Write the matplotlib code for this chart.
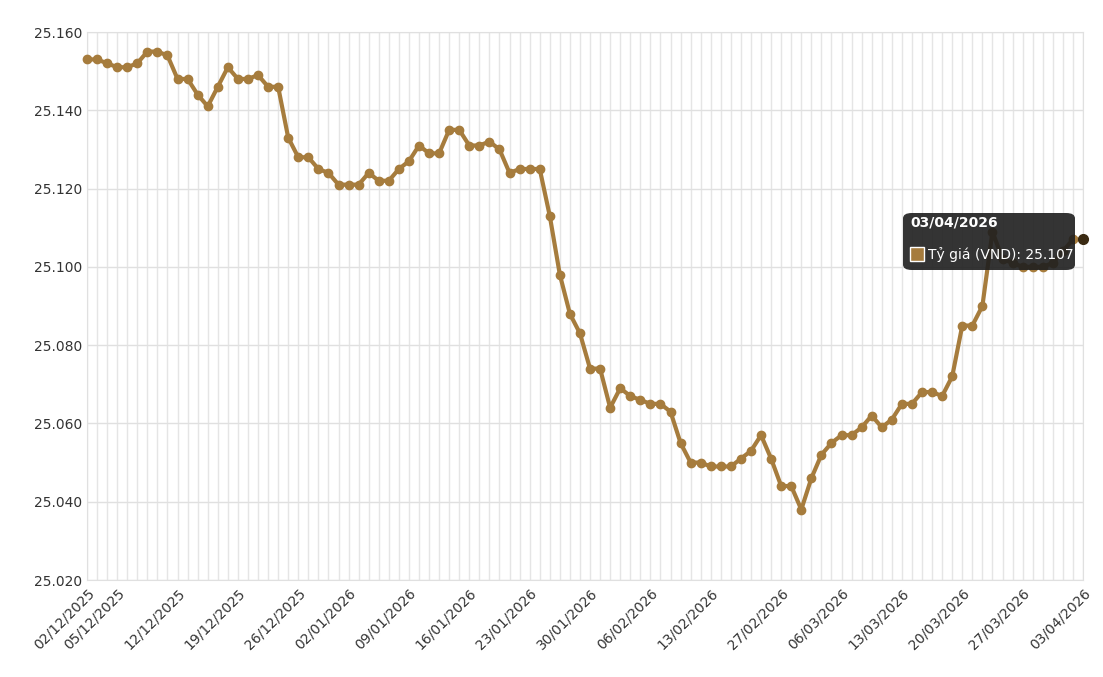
import matplotlib
matplotlib.use("Agg")
import matplotlib.pyplot as plt
from matplotlib.ticker import FuncFormatter

# Tỷ giá theo phiên (02/12/2025 - 03/04/2026), 100 phiên
rates = [
    25.153, 25.153, 25.152, 25.151, 25.151, 25.152, 25.155, 25.155, 25.154, 25.148,
    25.148, 25.144, 25.141, 25.146, 25.151, 25.148, 25.148, 25.149, 25.146, 25.146,
    25.133, 25.128, 25.128, 25.125, 25.124, 25.121, 25.121, 25.121, 25.124, 25.122,
    25.122, 25.125, 25.127, 25.131, 25.129, 25.129, 25.135, 25.135, 25.131, 25.131,
    25.132, 25.130, 25.124, 25.125, 25.125, 25.125, 25.113, 25.098, 25.088, 25.083,
    25.074, 25.074, 25.064, 25.069, 25.067, 25.066, 25.065, 25.065, 25.063, 25.055,
    25.050, 25.050, 25.049, 25.049, 25.049, 25.051, 25.053, 25.057, 25.051, 25.044,
    25.044, 25.038, 25.046, 25.052, 25.055, 25.057, 25.057, 25.059, 25.062, 25.059,
    25.061, 25.065, 25.065, 25.068, 25.068, 25.067, 25.072, 25.085, 25.085, 25.090,
    25.109, 25.102, 25.101, 25.100, 25.100, 25.100, 25.101, 25.104, 25.107, 25.107,
]
tick_idx = [0, 3, 9, 15, 21, 26, 32, 38, 44, 50, 56, 62, 69, 75, 81, 87, 93, 99]
tick_labels = ["02/12/2025", "05/12/2025", "12/12/2025", "19/12/2025", "26/12/2025",
               "02/01/2026", "09/01/2026", "16/01/2026", "23/01/2026", "30/01/2026",
               "06/02/2026", "13/02/2026", "27/02/2026", "06/03/2026", "13/03/2026",
               "20/03/2026", "27/03/2026", "03/04/2026"]
series_name = "Tỷ giá (VND)"

color = "#a67c3d"
x = list(range(len(rates)))

fig = plt.figure(figsize=(11.03, 6.77), dpi=100)
ax = fig.add_axes([87 / 1103, 1 - 580 / 677, 996 / 1103, 548 / 677])

ax.plot(x, rates, color=color, linewidth=3, marker="o", markersize=6,
        zorder=3, clip_on=False)
ax.plot([x[-1]], [rates[-1]], "o", color="#3a2a12", markersize=7, zorder=4, clip_on=False)

ax.set_xlim(0, len(rates) - 1)
ax.set_ylim(25.020, 25.160)
ax.set_yticks([25.020 + 0.02 * i for i in range(8)])
ax.yaxis.set_major_formatter(FuncFormatter(lambda v, p: f"{v:.3f}"))
ax.set_xticks(x, minor=True)
ax.set_xticks(tick_idx)
ax.set_xticklabels(tick_labels, rotation=45, ha="right", rotation_mode="anchor")
ax.grid(True, which="both", axis="x", color="#e5e5e5", linewidth=1)
ax.grid(True, which="major", axis="y", color="#e0e0e0", linewidth=1)
ax.tick_params(which="both", length=0, labelsize=10, colors="#333333")
ax.tick_params(axis="x", pad=4)
for s in ax.spines.values():
    s.set_color("#e0e0e0")
ax.set_axisbelow(True)

# tooltip
fig.patches.append(matplotlib.patches.FancyBboxPatch(
    (903 / 1103, 1 - 270 / 677), 172 / 1103, 57 / 677,
    boxstyle="round,pad=0,rounding_size=0.008", transform=fig.transFigure,
    facecolor="#1e1e1e", alpha=0.9, edgecolor="none", zorder=10))
fig.text(910 / 1103, 1 - 226 / 677, tick_labels[-1], color="white",
         fontsize=10, fontweight="bold", zorder=11)
fig.patches.append(matplotlib.patches.Rectangle(
    (910 / 1103, 1 - 261 / 677), 14 / 1103, 14 / 677, transform=fig.transFigure,
    facecolor=color, edgecolor="white", linewidth=1, zorder=11))
fig.text(928 / 1103, 1 - 259 / 677, f"{series_name}: {rates[-1]:.3f}", color="white",
         fontsize=10, zorder=11)

fig.savefig("out.png", dpi=100)
